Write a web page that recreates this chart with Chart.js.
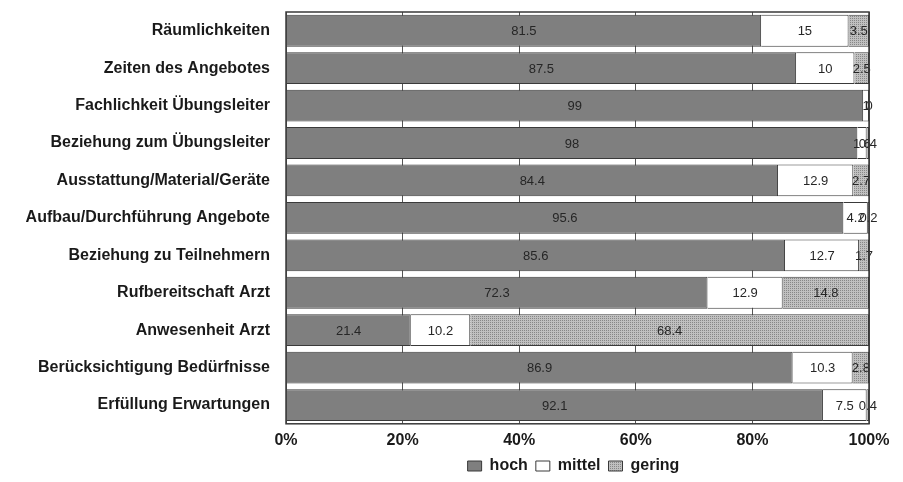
<!DOCTYPE html>
<html>
<head>
<meta charset="utf-8">
<script src="https://cdn.jsdelivr.net/npm/chart.js@4"></script>
<style>
  body { margin: 0; background: #fff; }
  canvas { display: block; }
</style>
</head>
<body>
<canvas id="chart" width="903" height="482"></canvas>
<script>
const categories = [
    'Räumlichkeiten',
    'Zeiten des Angebotes',
    'Fachlichkeit Übungsleiter',
    'Beziehung zum Übungsleiter',
    'Ausstattung/Material/Geräte',
    'Aufbau/Durchführung Angebote',
    'Beziehung zu Teilnehmern',
    'Rufbereitschaft Arzt',
    'Anwesenheit Arzt',
    'Berücksichtigung Bedürfnisse',
    'Erfüllung Erwartungen'
];
const hoch = [81.5, 87.5, 99, 98, 84.4, 95.6, 85.6, 72.3, 21.4, 86.9, 92.1];
const mittel = [15, 10, 1, 1.6, 12.9, 4.2, 12.7, 12.9, 10.2, 10.3, 7.5];
const gering = [3.5, 2.5, 0, 0.4, 2.7, 0.2, 1.7, 14.8, 68.4, 2.8, 0.4];
const tickLabels = ['0%', '20%', '40%', '60%', '80%', '100%'];

const fontFamily = '"Liberation Sans", Arial, sans-serif';

function makePattern() {
    const c = document.createElement('canvas');
    c.width = 4;
    c.height = 4;
    const g = c.getContext('2d');
    g.fillStyle = '#c0c0c0';
    g.fillRect(0, 0, 4, 4);
    g.fillStyle = '#878787';
    g.fillRect(0, 0, 1, 1);
    g.fillRect(2, 2, 1, 1);
    g.fillRect(2, 0, 1, 1);
    g.fillRect(0, 2, 1, 1);
    return g.createPattern(c, 'repeat');
}

const valueLabels = {
    id: 'valueLabels',
    afterDatasetsDraw(chart) {
        const {ctx} = chart;
        ctx.save();
        ctx.font = '13px ' + fontFamily;
        ctx.fillStyle = '#262626';
        ctx.textAlign = 'center';
        ctx.textBaseline = 'middle';
        chart.data.datasets.forEach((ds, i) => {
            chart.getDatasetMeta(i).data.forEach((bar, j) => {
                const left = Math.min(bar.x, bar.base);
                const right = Math.max(bar.x, bar.base);
                ctx.fillText(String(ds.data[j]), (left + right) / 2, bar.y + 1);
            });
        });
        ctx.restore();
    },
    afterDraw(chart) {
        const {ctx, chartArea} = chart;
        ctx.save();
        ctx.strokeStyle = '#3a3a3a';
        ctx.lineWidth = 1.5;
        ctx.strokeRect(chartArea.left, chartArea.top, chartArea.right - chartArea.left, chartArea.bottom - chartArea.top);
        ctx.restore();
    },
    afterLayout(chart) {
        if (chart.legend) {
            chart.legend.left += 139;
            chart.legend.right += 139;
            chart.legend.top -= 7;
            chart.legend.bottom -= 7;
        }
    }
};

new Chart(document.getElementById('chart'), {
    type: 'bar',
    data: {
        labels: categories,
        datasets: [
            { label: 'hoch', data: hoch, backgroundColor: '#7f7f7f', borderColor: '#3a3a3a', borderWidth: 1 },
            { label: 'mittel', data: mittel, backgroundColor: '#ffffff', borderColor: '#3a3a3a', borderWidth: 1 },
            { label: 'gering', data: gering, backgroundColor: makePattern(), borderColor: '#3a3a3a', borderWidth: 1 }
        ]
    },
    options: {
        indexAxis: 'y',
        responsive: false,
        animation: false,
        devicePixelRatio: 1,
        barPercentage: 0.85,
        categoryPercentage: 1,
        layout: { padding: { top: 12, right: 34, bottom: -9, left: 0 } },
        scales: {
            x: {
                stacked: true,
                min: 0,
                max: 100,
                afterFit: (scale) => { scale.paddingLeft = 0; scale.paddingRight = 0; },
                ticks: {
                    stepSize: 20,
                    color: '#1a1a1a',
                    font: { family: fontFamily, size: 16, weight: 'bold' },
                    padding: 7,
                    callback: (v, i) => tickLabels[i]
                },
                grid: { color: '#555', drawTicks: false },
                border: { display: false }
            },
            y: {
                stacked: true,
                afterFit: (scale) => {
                    scale.width = 286;
                    scale.paddingTop = 0;
                    scale.paddingBottom = 0;
                },
                ticks: {
                    color: '#1a1a1a',
                    font: { family: fontFamily, size: 16, weight: 'bold' },
                    padding: 16
                },
                grid: { display: false, drawTicks: false },
                border: { display: false }
            }
        },
        plugins: {
            tooltip: { enabled: false },
            legend: {
                position: 'bottom',
                labels: {
                    boxWidth: 14,
                    boxHeight: 10,
                    padding: 8,
                    color: '#1a1a1a',
                    font: { family: fontFamily, size: 16, weight: 'bold' }
                }
            }
        }
    },
    plugins: [valueLabels]
});
</script>
</body>
</html>
